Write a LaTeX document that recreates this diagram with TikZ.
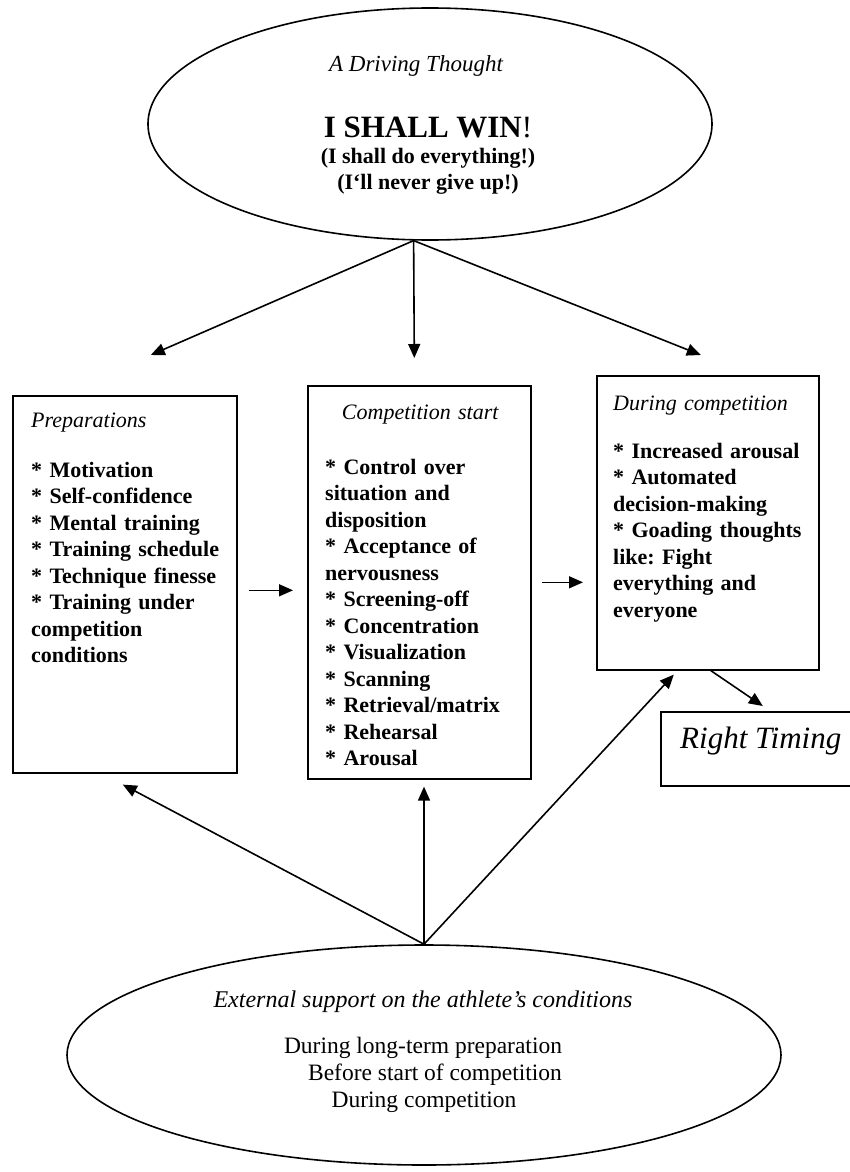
\documentclass[tikz,border=0pt]{standalone}
\usepackage{fontspec}
\setmainfont{Liberation Serif}
\usetikzlibrary{shapes.geometric,arrows.meta}
\frenchspacing

\begin{document}
\begin{tikzpicture}[x=1pt,y=-1pt,
	box/.style={draw,line width=1.6pt,inner sep=0pt,anchor=north west},
	oval/.style={draw,ellipse,line width=1.6pt,inner sep=0pt},
	txt/.style={anchor=base west,inner sep=0pt,align=left,font=\fontsize{22}{26.5}\selectfont\bfseries},
	arr/.style={line width=1.6pt,-{Triangle[length=14pt,width=12pt]}}]
	\useasboundingbox (0,0) rectangle (849,1172);
	% the driving thought
	\node [oval,minimum width=564pt,minimum height=232pt] (thought) at (430,124) {};
	\node [inner sep=0pt] (drive) at (416,66) {\fontsize{23}{27}\selectfont\itshape A Driving Thought};
	\node [inner sep=0pt] (win) at (428,127) {\fontsize{31}{35}\selectfont\bfseries I SHALL WIN\mdseries!};
	\node [inner sep=0pt] (win2) at (428,158) {\fontsize{22}{26}\selectfont\bfseries (I shall do everything!)};
	\node [inner sep=0pt] (win3) at (428,184) {\fontsize{22}{26}\selectfont\bfseries (I`ll never give up!)};
	% the three phases
	\node [box,minimum width=224pt,minimum height=377pt] (prep) at (12,395) {};
	\node [box,minimum width=223pt,minimum height=393pt] (start) at (307,385) {};
	\node [box,minimum width=222pt,minimum height=294pt] (during) at (596,375) {};
	\node [box,minimum width=200pt,minimum height=74pt] (timing) at (660,711) {};
	\node [txt,text width=200pt] (preptxt) at (31,427) {{\mdseries\itshape Preparations}\\[23.5pt]
		{*} Motivation\\ {*} Self-confidence\\ {*} Mental training\\ {*} Training schedule\\
		{*} Technique finesse\\ {*} Training under\\ competition\\ conditions};
	\node [txt,text width=190pt] (starttxt) at (325,419) {\makebox[190pt]{\mdseries\itshape Competition start}\\[28.5pt]
		{*} Control over\\ situation and\\ disposition\\ {*} Acceptance of\\ nervousness\\
		{*} Screening-off\\ {*} Concentration\\ {*} Visualization\\ {*} Scanning\\
		{*} Retrieval/matrix\\ {*} Rehearsal\\ {*} Arousal};
	\node [txt,text width=200pt] (duringtxt) at (613,410) {{\mdseries\itshape During competition}\\[21.5pt]
		{*} Increased arousal\\ {*} Automated\\ decision-making\\ {*} Goading thoughts\\
		like: Fight\\ everything and\\ everyone};
	\node [anchor=west,inner sep=0pt] (timingtxt) at (680,741) {\fontsize{31}{36}\selectfont\itshape Right Timing};
	% external support
	\node [oval,minimum width=714pt,minimum height=220pt] (support) at (424,1055) {};
	\node [inner sep=0pt] (suptitle) at (423,1002) {\fontsize{24}{28}\selectfont\itshape External support on the athlete's conditions};
	\node [inner sep=0pt] (sup1) at (423,1048) {\fontsize{23.5}{27}\selectfont During long-term preparation};
	\node [inner sep=0pt] (sup2) at (435,1075) {\fontsize{23.5}{27}\selectfont Before start of competition};
	\node [inner sep=0pt] (sup3) at (424,1102) {\fontsize{23.5}{27}\selectfont During competition};
	% arrows
	\coordinate (apex) at (thought.262);
	\draw [arr] (apex) -- ([shift={(26,-40)}]prep.north);
	\draw [arr] (apex) -- ([shift={(-5,-27)}]start.north);
	\draw [arr] (apex) -- ([shift={(-7,-20)}]during.north);
	\draw [arr] ([shift={(11,6)}]prep.east) -- ([shift={(-14,8)}]start.west);
	\draw [arr] ([xshift=10pt]start.east) -- ([xshift=-13pt]start.east -| during.west);
	\draw [arr] ([shift={(3,0)}]during.south) -- ([shift={(2,-5)}]timing.north);
	\draw [arr] (support.north) -- ([shift={(-2,11)}]prep.south);
	\draw [arr] (support.north) -- ([shift={(0,7)}]start.south -| support.north);
	\draw [arr] (support.north) -- ([shift={(-34,4)}]during.south);
\end{tikzpicture}
\end{document}
